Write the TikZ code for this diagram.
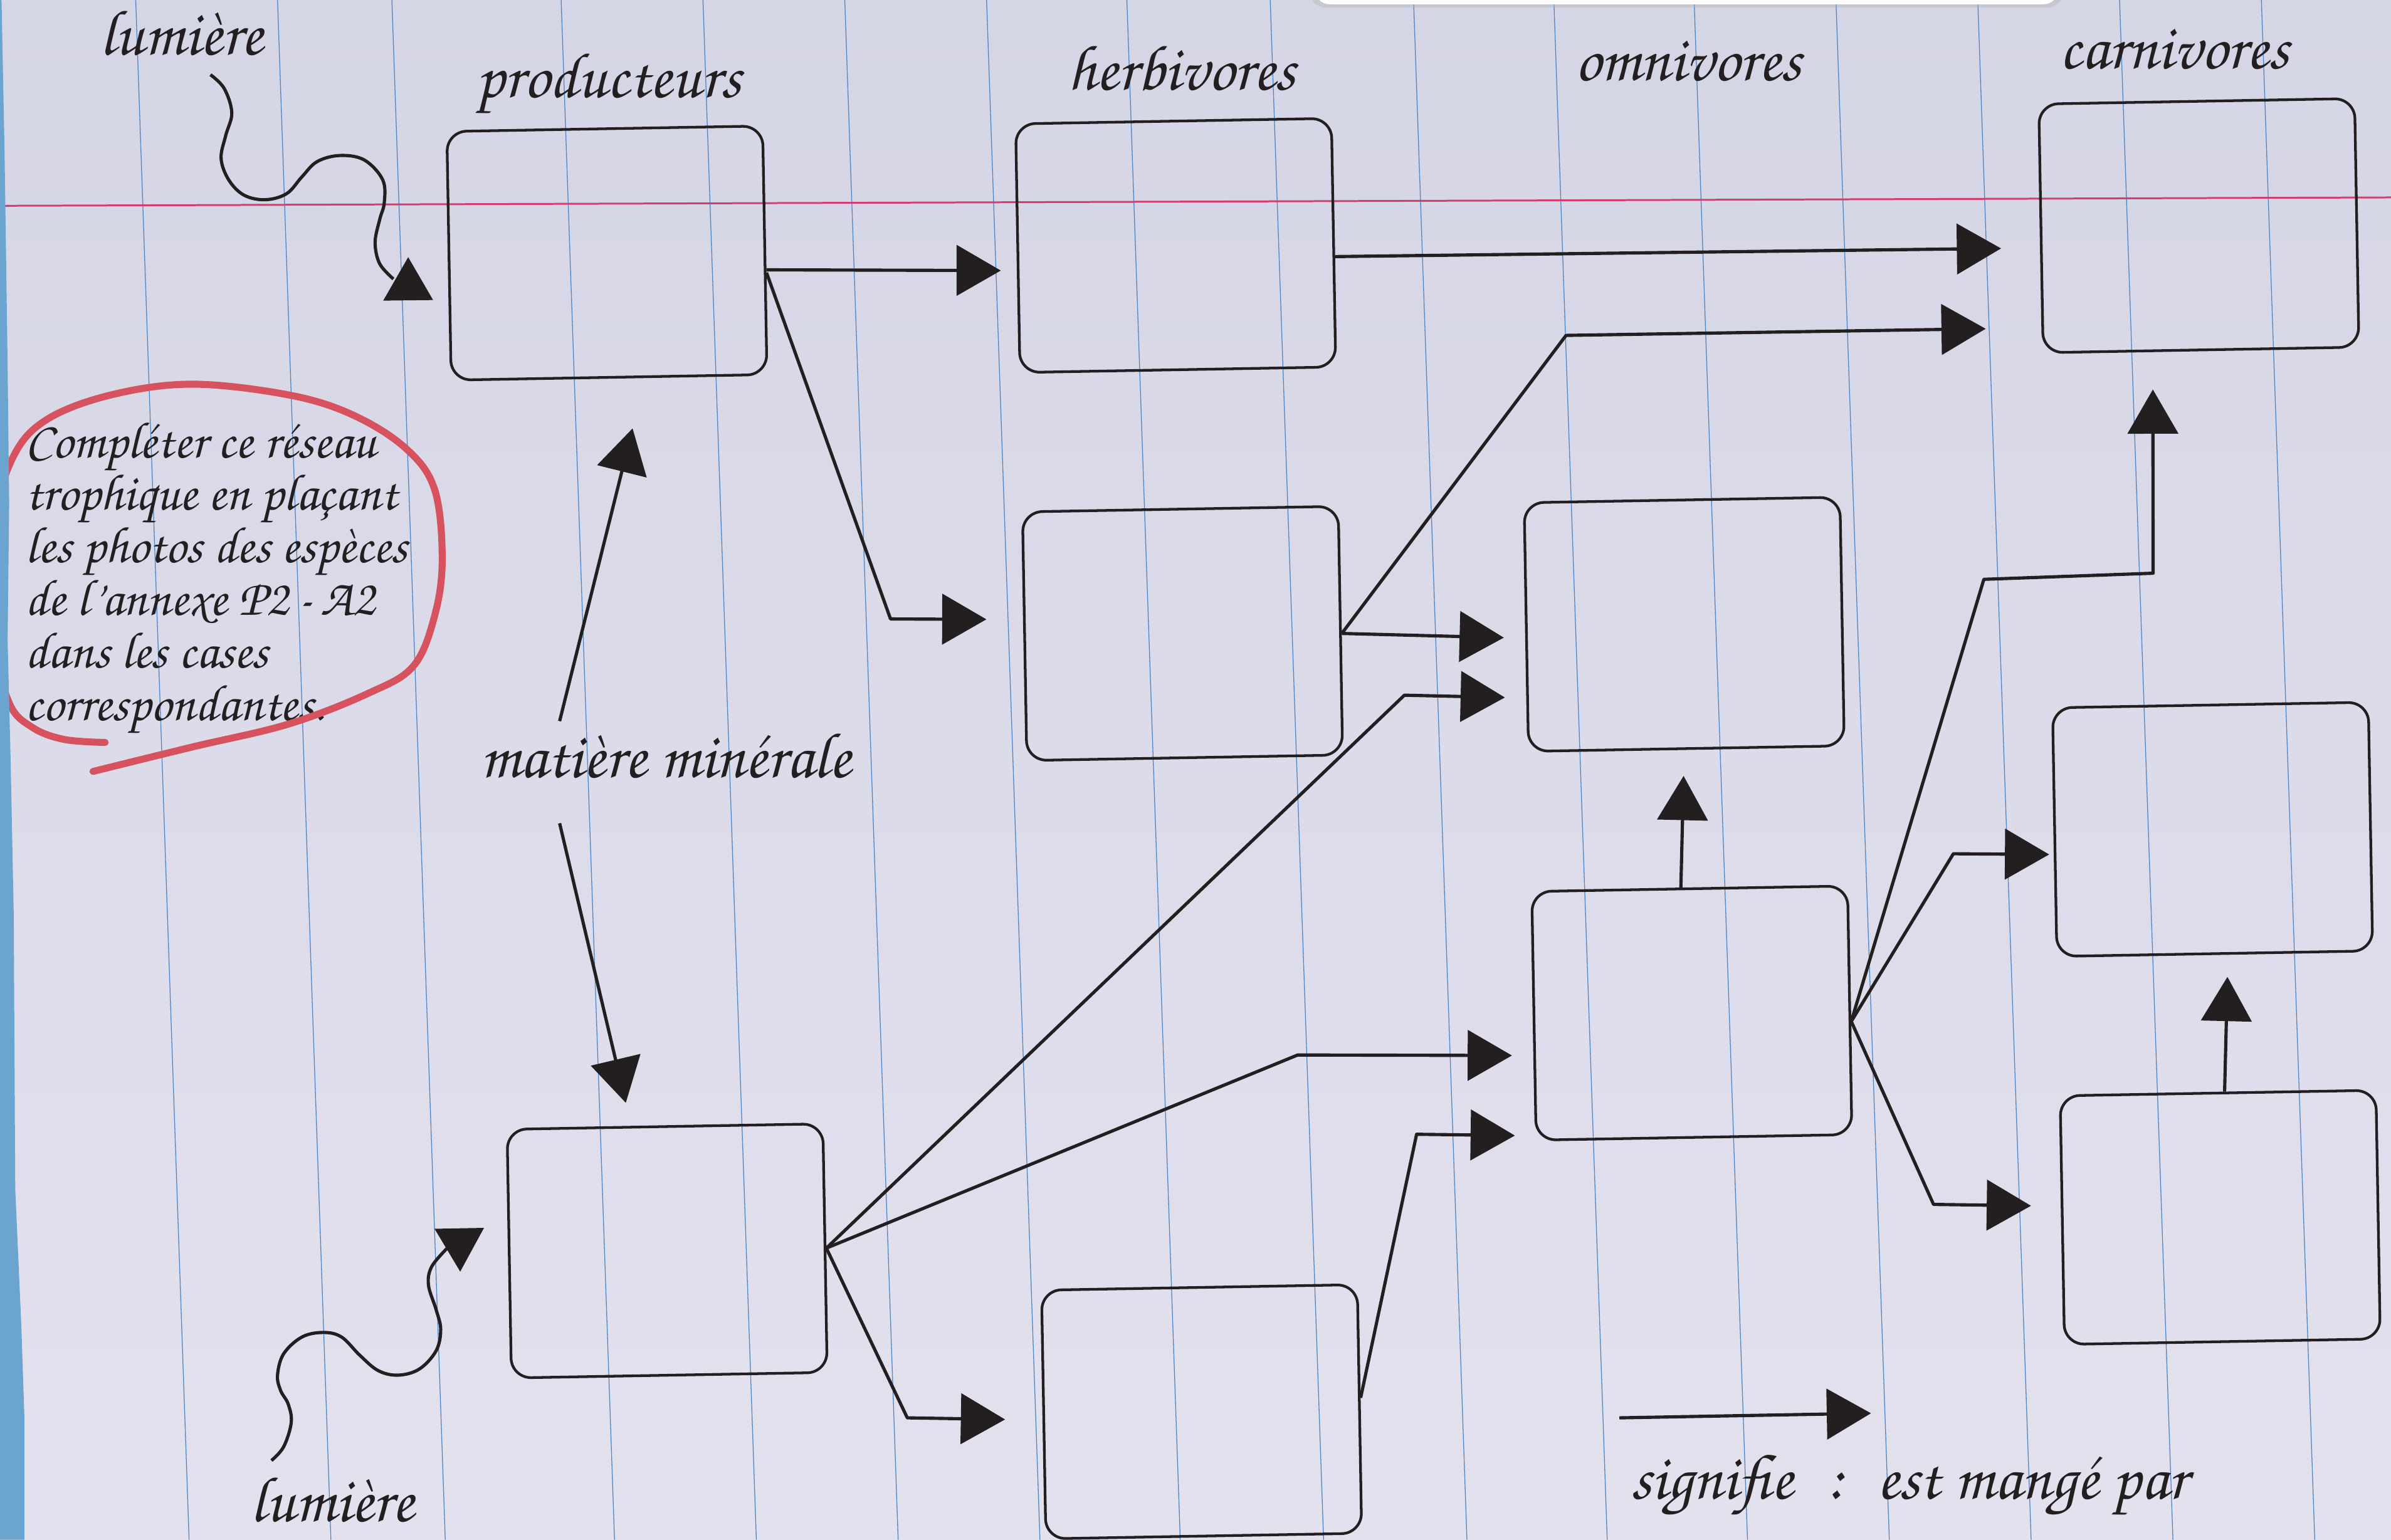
\documentclass[tikz,border=0pt]{standalone}
\usepackage[T1,TU]{fontenc}
\usepackage{tikz}
\usetikzlibrary{arrows.meta}
\newcommand{\hand}{\fontencoding{T1}\fontfamily{pzc}\fontseries{mb}\fontshape{it}\selectfont}
\definecolor{paperTop}{RGB}{212,213,229}
\definecolor{paperBot}{RGB}{228,225,238}
\definecolor{seyesBlue}{RGB}{74,134,200}
\definecolor{margePink}{RGB}{210,62,112}
\definecolor{feutre}{RGB}{213,82,94}
\definecolor{coverBlue}{RGB}{108,164,208}
\definecolor{ink}{RGB}{35,31,32}

\begin{document}
\begin{tikzpicture}[x=0.01cm, y=-0.01cm, ink,
  box/.style={draw=ink, line width=0.5pt, rounded corners=0.13cm, minimum width=2.07cm, minimum height=1.63cm, inner sep=0pt, rotate=1},
  eat/.style={draw=ink, -{Triangle[length=0.29cm,width=0.33cm]}, line width=0.6pt, line join=round},
  wave/.style={draw=ink, line width=0.6pt},
  heading/.style={font=\hand\fontsize{12}{14}\selectfont, anchor=base, inner sep=0pt, text=ink},
  hint/.style={font=\hand\fontsize{9.6}{9.8}\selectfont, anchor=base west, align=left, inner sep=0pt, text=ink},
  seyes/.style={seyesBlue, line width=0.15pt},
  marge/.style={margePink, line width=0.35pt}]
\useasboundingbox (0,0) rectangle (1568,1010);
%paper
\shade[top color=paperTop, bottom color=paperBot] (0,0) rectangle (1568,1010);
\foreach \x in {89,182,257,368,461,554,647,739,833,927,1019,1111,1204,1297,1390,1483}
  \draw[seyes] (\x,0) -- (\x+35,1010);
\draw[marge] (0,135) -- (1568,129.5);
\fill[gray!60, opacity=0.4, rounded corners=0.12cm] (858,-20) rectangle (1354,5);
\fill[white, rounded corners=0.1cm] (862,-20) rectangle (1350,2.8);

%boxes
\node[box] (prodA) at (398,166) {};
\node[box] (herbA) at (771,161) {};
\node[box] (carnA) at (1442,148) {};
\node[box] (herbB) at (775.5,415.5) {};
\node[box] (omniA) at (1104.5,409.5) {};
\node[box] (carnB) at (1451,544) {};
\node[box] (omniB) at (1109.5,664.5) {};
\node[box] (carnC) at (1456,798.5) {};
\node[box] (prodB) at (437.5,820.5) {};
\node[box] (herbC) at (788,926) {};

%titles
\node[heading] (lumA) at (119,36) {lumi\`ere};
\node[heading] (tProd) at (399,64) {producteurs};
\node[heading] (tHerb) at (775,59) {herbivores};
\node[heading] (tOmni) at (1107,52.7) {omnivores};
\node[heading] (tCarn) at (1426,45) {carnivores};
\node[heading] (mineral) at (436.5,510) {mati\`ere min\'erale};
\node[heading] (lumB) at (218,998) {lumi\`ere};
\node[heading] (legend) at (1252,983) {signifie\hspace{0.22cm}:\hspace{0.22cm}est mang\'e par};
% base of a multi-line node = last line
\node[hint] (consigne) at (16,472.5) {Compl\'eter ce r\'eseau\\trophique en pla\c{c}ant\\les photos des esp\`eces\\de l'annexe P2\,-\,A2\\dans les cases\\correspondantes.};

%free ends
\coordinate (minUp) at (367,473);
\coordinate (minDown) at (367,540);
\coordinate (legS) at (1062,930);
\coordinate (legE) at (1227,927);

%light
\draw[wave] plot[smooth, tension=0.6] coordinates {(138,49) (147,58) (152,74) (148,89) (145,104) (150,118) (160,128) (174,131) (188,127) (198,116) (208,106) (223,102) (239,105) (251,118) (252,133) (249,144) (246,159) (249,173) (258,183)};
\fill[ink] (267.7,168.7) -- (251.3,197.2) -- (284,196.8) -- cycle;
\draw[wave] plot[smooth, tension=0.6] coordinates {(178,958) (186,949) (191,933) (189,921) (184,912) (182,902) (186,888) (198,877) (212,874) (224,877) (236,889) (248,899) (261,902) (275,898) (286,886) (289,872) (286,859) (281,843) (283,831) (293,819)};
\fill[ink] (285,806) -- (317.4,805.4) -- (301.8,834.1) -- cycle;

%matiere minerale
\draw[eat, shorten >=0.34cm] (minUp) -- (prodA.-74);
\draw[eat, shorten >=0.155cm] (minDown) -- (prodB.105);

%est mange par
\draw[eat, shorten >=0.105cm] (prodA.-7) -- (herbA.188);
\draw[eat, shorten >=0.255cm] (herbA.-5) -- (carnA.187);
\draw[eat, shorten >=0.24cm] (prodA.-8) -- (584,406) -- (herbB.174);
\draw[eat, shorten >=0.14cm] (herbB.-1) -- (omniA.184);
\draw[eat, shorten >=0.365cm] (herbB.-1) -- (1027,220) -- (carnA.212);
\draw[eat, shorten >=0.14cm] (prodB.0) -- (921,456) -- (omniA.204);
\draw[eat, shorten >=0.14cm] (prodB.0) -- (851,692) -- (omniB.194);
\draw[eat, shorten >=0.245cm] (prodB.0) -- (595,930) -- (herbC.182);
\draw[eat, shorten >=0.13cm] (herbC.4) -- (929,744) -- (omniB.217);
\draw[eat, shorten >=0.17cm] (omniB.94) -- (omniA.269);
\draw[eat, shorten >=0.245cm] (omniB.-4) -- (1301,380) -- (1412,376) -- (carnA.249);
\draw[eat, shorten >=0.03cm] (omniB.-4) -- (1281,560) -- (carnB.188);
\draw[eat, shorten >=0.195cm] (omniB.-4) -- (1268,790) -- (carnC.175);
\draw[eat, shorten >=0.145cm] (carnC.87) -- (carnB.-84);

%legend
\draw[eat] (legS) -- (legE);

%red ring round the instruction
\draw[feutre, line width=1.3pt, line cap=round] plot[smooth, tension=0.6] coordinates {(61,506) (126,490) (189,475) (241,455) (271,437) (285,404) (290,367) (285,321) (266,294) (231,272) (189,259) (126,252) (73,259) (31,275) (9,299) (-2,340) (-3,420) (6,461) (21,477) (42,485) (69,487)};
%cover edge
\fill[coverBlue] (0,0) -- (1,0) -- (3,100) -- (5,240) -- (6,330) -- (5,420) -- (7,500) -- (9,600) -- (10,780) -- (14,870) -- (16,930) -- (16,1010) -- (0,1010) -- cycle;
\end{tikzpicture}
\end{document}
